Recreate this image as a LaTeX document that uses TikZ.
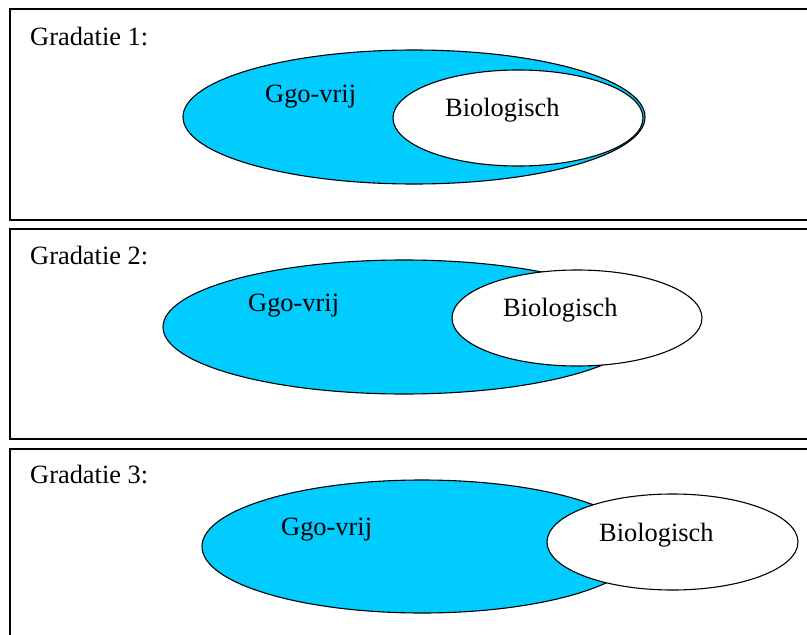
\documentclass[tikz,border=0pt]{standalone}
\usepackage{fontspec}
\setmainfont{Liberation Serif}
\usetikzlibrary{shapes.geometric}
\definecolor{ggoblue}{HTML}{00CCFF}
\tikzset{
  panel/.style={draw=black, line width=1.8pt},
  ggo/.style={ellipse, draw=black, fill=ggoblue, line width=1.1pt, inner sep=0pt, outer sep=0pt},
  bio/.style={ellipse, draw=black, fill=white, line width=1.1pt, inner sep=0pt, outer sep=0pt},
  lbl/.style={anchor=base west, inner sep=0pt, font=\fontsize{26.4}{30}\selectfont}
}
\begin{document}
\begin{tikzpicture}[x=1pt, y=-1pt]
\useasboundingbox (0,0) rectangle (807,635);
% panels
\draw[panel] (10,9) rectangle (830,220);
\draw[panel] (10,229) rectangle (830,439);
\draw[panel] (10,449) rectangle (830,660);
% Gradatie 1
\node[lbl] (g1) at (30,45) {Gradatie 1:};
\node[ggo, minimum width=462pt, minimum height=134pt] (ggo1) at (414,117) {};
\node[bio, minimum width=250pt, minimum height=96pt] (bio1) at (518,118) {};
\node[lbl] (tg1) at (265,102.5) {Ggo-vrij};
\node[lbl] (tb1) at (445,116.5) {Biologisch};
% Gradatie 2
\node[lbl] (g2) at (30,264.5) {Gradatie 2:};
\node[ggo, minimum width=482pt, minimum height=134pt] (ggo2) at (404,327) {};
\node[bio, minimum width=250pt, minimum height=96pt] (bio2) at (577,318) {};
\node[lbl] (tg2) at (248,311.5) {Ggo-vrij};
\node[lbl] (tb2) at (503,316.5) {Biologisch};
% Gradatie 3
\node[lbl] (g3) at (30,483.5) {Gradatie 3:};
\node[ggo, minimum width=440pt, minimum height=133pt] (ggo3) at (422,546.5) {};
\node[bio, minimum width=251pt, minimum height=96pt] (bio3) at (672.5,542) {};
\node[lbl] (tg3) at (281,535) {Ggo-vrij};
\node[lbl] (tb3) at (599,541) {Biologisch};
\end{tikzpicture}
\end{document}
